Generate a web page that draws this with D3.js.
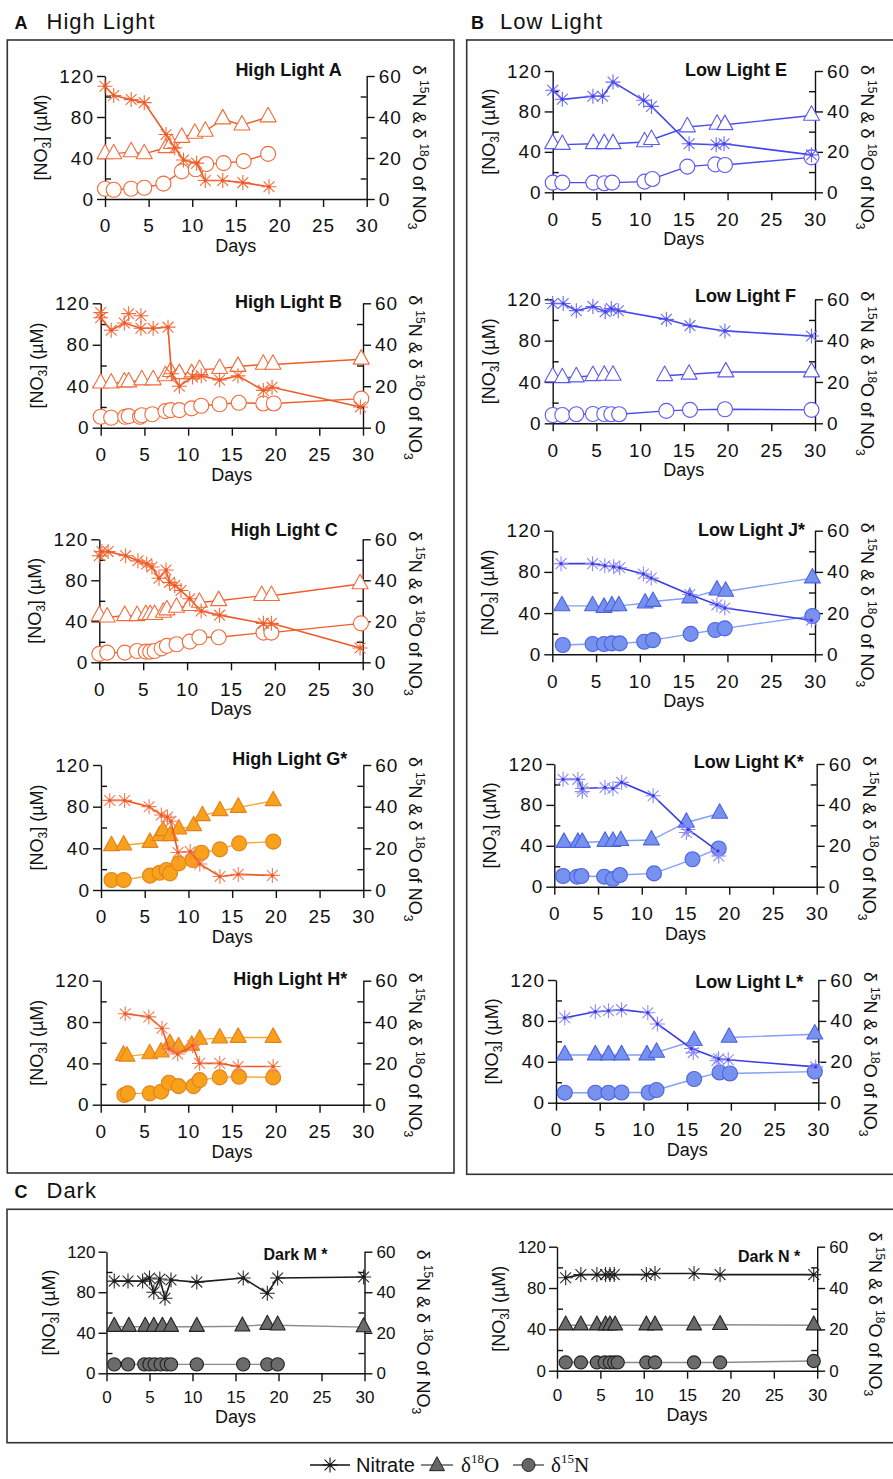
<!DOCTYPE html>
<html><head><meta charset="utf-8">
<script src="https://cdn.jsdelivr.net/npm/d3@7"></script>
<style>body{margin:0;background:#fff}svg{display:block}</style>
</head><body>
<svg id="c" width="893" height="1479"></svg>
<script>
// ---------- tick labels ----------
const dayTicks = [0,5,10,15,20,25,30];
const no3Ticks = [0,40,80,120];
const no3Minor = [20,60,100];
const deltaTicks = [0,20,40,60];
const deltaMinor = [10,30,50];

// ---------- data: [day, value] ----------
// High Light A
const A_no3  = [[0,110],[1,101],[3,97],[4.5,94],[7,63],[8,50],[9,38],[10.5,35],[11.5,18],[13.5,18],[15.8,16],[18.8,12]];
const A_d18O = [[0,22],[1,22],[3,23],[4.5,22],[7,25],[7.6,27],[8.8,30],[10.3,32],[11.5,33],[13.5,39],[15.7,36],[18.7,40]];
const A_d15N = [[0,5],[1,4.5],[3,5],[4.5,5.5],[6.7,7.5],[8.8,13.5],[10.4,14.5],[11.6,17],[13.6,17.5],[15.9,18.5],[18.7,22]];
// High Light B
const B_no3  = [[0,106],[1.2,94],[2.7,101],[4.6,96],[6,96],[7.7,97],[8.1,52],[9,40],[10.5,49],[11.5,50],[13.6,46],[15.7,50],[18.6,36],[19.6,39],[29.7,20]];
const B_no3_rep = [[0,111],[3.2,110],[4.6,108]];
const B_d18O = [[0,21.5],[1.2,21.5],[2.7,22],[3.2,22],[4.7,23],[6,23],[7.4,25],[8,27],[9,26],[10.4,26],[11.3,28],[13.6,28.5],[15.7,29.5],[18.6,30.5],[19.7,30.5],[29.8,33]];
const B_d15N = [[0,5.3],[1.2,4.8],[2.8,5.3],[3.2,5.6],[4.5,5.3],[4.7,6],[5.9,6.5],[7.4,8],[8,8.5],[9,8.5],[10.4,9.3],[11.5,10.6],[13.6,11.3],[15.8,12],[18.6,11.7],[19.8,11.7],[29.8,14]];
// High Light C
const C_no3  = [[0,104],[0.3,108],[1,108],[3,104],[4.4,99],[5.4,96],[6,93],[6.8,82],[7.6,90],[8,78],[8.6,75],[9.3,70],[10.3,62],[11.6,50],[13.7,46],[18.7,38],[19.6,38],[29.7,14]];
const C_d18O = [[0,22.7],[0.9,22],[2.9,22.7],[4.3,22.7],[5.3,23.2],[5.8,23.2],[6.3,23.2],[7.3,24.3],[7.7,25.5],[8.8,26.8],[10.3,27.6],[11.4,29.2],[13.6,30],[18.5,32.5],[19.6,32.5],[29.7,38.2]];
const C_d15N = [[0,4.1],[0.9,4.7],[2.9,4.7],[4.3,5.5],[5.3,5.2],[5.8,5.2],[6.3,5.5],[7.1,6.8],[7.7,8],[8.8,8.8],[10.3,10.1],[11.4,12.2],[13.6,12.2],[18.7,14.5],[19.6,14.5],[29.8,19]];
// High Light G*
const G_no3  = [[1,86],[2.7,86],[5.5,80],[6.9,72],[7.6,70],[8,66],[8.8,36],[10.2,37],[11.3,25],[13.6,13],[15.7,15],[19.6,14]];
const G_d18O = [[1.2,21.2],[2.6,21.5],[5.6,22.8],[6.7,26],[7.1,28.4],[7.9,26],[8.9,29.2],[10.6,30.8],[11.6,35.6],[13.6,38],[15.7,39.6],[19.7,42.8]];
const G_d15N = [[1.2,4.8],[2.6,4.8],[5.6,6.9],[6.7,8.3],[7.5,9.6],[7.9,8],[8.9,12.8],[10.5,14.4],[11.5,17.9],[13.6,19.5],[15.8,22.4],[19.7,23.2]];
// High Light H*
const H_no3  = [[2.8,88],[5.5,85],[7,74],[7.8,54],[8.8,49],[10.5,57],[11.3,40],[13.6,40],[15.7,37],[19.7,37]];
const H_d18O = [[2.6,23.8],[3,23.4],[5.6,24.6],[6.9,25.4],[7.9,29.5],[8.9,27.9],[10.4,28.7],[11.3,31.6],[13.6,32.2],[15.7,32.5],[19.7,32.5]];
const H_d15N = [[2.7,4.7],[3.1,5.5],[5.6,5.5],[6.9,6.3],[7.8,10.6],[8.9,9],[10.6,9],[11.3,11.9],[13.6,13.2],[15.8,13.5],[19.7,13.2]];
// Low Light E
const E_no3  = [[0,101],[1.1,92],[4.6,95],[5.7,95],[6.9,109],[10.4,91],[11.3,85],[15.6,48],[18.7,47],[19.6,48],[29.6,37]];
const E_d18O = [[0,24],[1.1,23.6],[4.65,24],[5.9,24],[6.9,24],[10.5,24.9],[11.3,26],[15.4,32.3],[18.8,33.6],[19.7,33.4],[29.6,38]];
const E_d15N = [[0,4.8],[1.1,4.8],[4.65,4.8],[5.9,4.5],[6.8,4.8],[10.5,5.3],[11.4,6.6],[15.4,12.7],[18.6,13.8],[19.7,13.5],[29.6,17.3]];
// Low Light F
const F_no3  = [[0,116],[1.2,116],[2.7,109],[4.6,113],[6,108],[6.7,111],[7.5,109],[13,100.6],[15.7,94.5],[19.7,89.4],[29.6,84.5]];
const F_d18O = [[0,22.4],[1.1,22],[2.7,22.4],[4.6,23],[5.9,23.2],[6.9,23.2],[10,null],[12.8,23],[15.6,23.7],[19.8,24.8],[29.6,24.8]];
const F_d15N = [[0,4],[1.1,4],[2.7,4.4],[4.6,4.5],[5.9,4.5],[6.7,4.4],[7.6,4.4],[13,6],[15.7,6.5],[19.7,6.8],[29.6,6.5]];
// Low Light J*
const J_no3  = [[1,88],[4.6,88],[6,86],[7,85],[7.7,84],[10.4,78],[11.3,74],[15.7,58],[18.8,48],[19.7,45],[29.6,33]];
const J_d18O = [[1.1,23.5],[4.6,23.5],[5.9,22.7],[6.8,23.5],[7.6,23.5],[10.6,24.8],[11.5,25.6],[15.7,27.3],[18.8,31.1],[19.8,30.5],[29.7,37]];
const J_d15N = [[1.2,4.5],[4.6,5],[5.9,5],[6.8,5.3],[7.7,5.3],[10.5,6.1],[11.5,6.9],[15.8,9.9],[18.6,11.8],[19.7,12.6],[29.7,18.6]];
// Low Light K*
const K_no3  = [[1,105],[2.7,105],[3.2,96],[5.8,97],[6.7,96],[7.7,102],[11.3,89],[15.3,56],[18.7,35]];
const K_no3_rep = [[3.2,93],[15.1,53],[18.8,30]];
const K_d18O = [[1.1,21.6],[2.7,21.6],[3.2,21.6],[5.8,22.1],[6.7,22.1],[7.6,22.5],[11.1,22.8],[15.1,31.4],[18.9,35.8]];
const K_d15N = [[1,5.2],[2.6,4.9],[3.1,5.2],[5.7,4.9],[6.7,3.7],[7.5,5.7],[11.4,6.5],[15.8,13.4],[18.8,18.7]];
// Low Light L*
const L_no3  = [[1,83],[4.5,89],[6,90],[7.5,91],[10.5,88],[11.6,77],[15.5,53],[18.6,43],[19.7,42],[29.7,35]];
const L_no3_rep = [[15.7,49],[18.4,41]];
const L_d18O = [[1,23.3],[4.5,23.3],[6,23.3],[7.5,23.3],[10.4,23.3],[11.5,24.6],[15.8,30.3],[18.7,null],[19.8,31.9],[29.6,33.5]];
const L_d15N = [[1,4.9],[4.5,4.9],[6,4.9],[7.5,5],[10.6,5],[11.5,6.2],[15.8,11.6],[18.7,14.8],[19.9,14.3],[29.6,15.2]];
// Dark M*
const M_no3  = [[0.9,91],[2.5,91],[4.2,91],[5,94],[5.5,80],[6.2,93],[6.8,74],[7.5,92],[10.5,90],[15.9,94],[18.7,79],[19.9,94],[29.9,95]];
const M_d18O = [[0.9,23],[2.6,23],[4.5,23],[5.5,23],[6.5,23],[7.5,23],[10.5,23],[15.8,23.2],[18.7,24],[19.9,23.7],[29.9,22.8]];
const M_d15N = [[0.9,4.4],[2.5,4.4],[4.4,4.4],[5,4.4],[5.6,4.4],[6.3,4.4],[7,4.4],[7.5,4.4],[10.5,4.4],[15.9,4.4],[18.7,4.4],[19.9,4.4]];
// Dark N*
const N_no3  = [[1,90],[2.75,93],[4.6,93],[5.6,93],[6.1,93],[6.6,93],[10.3,93],[11.3,94],[15.8,94],[18.8,93],[29.6,93]];
const N_d18O = [[1,22],[2.75,22],[4.6,22],[5.6,22],[6.1,22],[6.7,22],[10.3,22],[11.3,22],[15.8,22],[18.8,22.2],[29.6,22]];
const N_d15N = [[1,4],[2.75,4],[4.6,4],[5.5,4],[6.1,4],[6.6,4],[7,4],[10.3,4],[11.3,4],[15.8,4],[18.8,4],[29.6,4.7]];

// ---------- panels ----------
const panels = [
  {title:'High Light A',  theme:'hlOpen', no3:A_no3, rep:[], d18O:A_d18O, d15N:A_d15N},
  {title:'High Light B',  theme:'hlOpen', no3:B_no3, rep:B_no3_rep, d18O:B_d18O, d15N:B_d15N},
  {title:'High Light C',  theme:'hlOpen', no3:C_no3, rep:[], d18O:C_d18O, d15N:C_d15N},
  {title:'High Light G*', theme:'hlFill', no3:G_no3, rep:[], d18O:G_d18O, d15N:G_d15N},
  {title:'High Light H*', theme:'hlFill', no3:H_no3, rep:[], d18O:H_d18O, d15N:H_d15N},
  {title:'Low Light E',   theme:'llOpen', no3:E_no3, rep:[], d18O:E_d18O, d15N:E_d15N},
  {title:'Low Light F',   theme:'llOpen', no3:F_no3, rep:[], d18O:F_d18O, d15N:F_d15N},
  {title:'Low Light J*',  theme:'llFill', no3:J_no3, rep:[], d18O:J_d18O, d15N:J_d15N},
  {title:'Low Light K*',  theme:'llFill', no3:K_no3, rep:K_no3_rep, d18O:K_d18O, d15N:K_d15N},
  {title:'Low Light L*',  theme:'llFill', no3:L_no3, rep:L_no3_rep, d18O:L_d18O, d15N:L_d15N},
  {title:'Dark M *',      theme:'dark',   no3:M_no3, rep:[], d18O:M_d18O, d15N:M_d15N},
  {title:'Dark N *',      theme:'dark',   no3:N_no3, rep:[], d18O:N_d18O, d15N:N_d15N}
];

// ---------- layout (positions only) ----------
const layout = {
  'High Light A':  {x0:105,   x1:366.7, yt:76,     yb:199,    sdx:-25, sdy:0,  rty:-11},
  'High Light B':  {x0:100.7, x1:363,   yt:303.3,  yb:427.7,  sdx:-21, sdy:5,  rty:-8},
  'High Light C':  {x0:99.3,  x1:362.7, yt:539.3,  yb:662.3,  sdx:-25, sdy:-3, rty:-8},
  'High Light G*': {x0:101,   x1:363.3, yt:765,    yb:890,    sdx:-16, sdy:0,  rty:-8},
  'High Light H*': {x0:100.7, x1:363.3, yt:980.7,  yb:1104.7, sdx:-16, sdy:4,  rty:-8},
  'Low Light E':   {x0:552.7, x1:815,   yt:71,     yb:192.3,  sdx:-28, sdy:5,  rty:-6},
  'Low Light F':   {x0:552.7, x1:815,   yt:299.3,  yb:423.3,  sdx:-19, sdy:3,  rty:-8},
  'Low Light J*':  {x0:552.3, x1:815,   yt:530.7,  yb:654.3,  sdx:-10, sdy:5,  rty:-8},
  'Low Light K*':  {x0:554.3, x1:816.7, yt:764,    yb:886.7,  sdx:-13, sdy:4,  rty:-8},
  'Low Light L*':  {x0:556,   x1:818.3, yt:980,    yb:1102.7, sdx:-15, sdy:8,  rty:-8},
  'Dark M *':      {x0:106.5, x1:364.5, yt:1251.7, yb:1373.3, sdx:-37, sdy:8,  rty:-2, narrow:true},
  'Dark N *':      {x0:557,   x1:817.2, yt:1246.7, yb:1370.7, sdx:-17, sdy:15, rty:-15, narrow:true}
};

const themes = {
  hlOpen: {no3Line:'#EE5A24', ast:'#F26A3A', dLine:'#EF5E28', fill:'#ffffff', stroke:'#F26B3A'},
  hlFill: {no3Line:'#EC5A24', ast:'#F47B52', dLine:'#F7A829', fill:'#F8A21C', stroke:'#E4801F'},
  llOpen: {no3Line:'#4545EE', ast:'#6A6AF2', dLine:'#4A4AEE', fill:'#ffffff', stroke:'#5A5AF0'},
  llFill: {no3Line:'#3B3BE3', ast:'#8C8CF5', dLine:'#82A0F5', fill:'#7792EE', stroke:'#4D62E2'},
  dark:   {no3Line:'#1a1a1a', ast:'#2a2a2a', dLine:'#8c8c8c', fill:'#6b6b6b', stroke:'#222222'}
};

const SANS = "'Liberation Sans', Arial, Helvetica, sans-serif";
const SERIF = "'Liberation Serif', 'Times New Roman', serif";
const svg = d3.select('#c');

function asteriskPath(r){
  const a = r*0.72;
  return `M0,${-r}V${r}M${-r},0H${r}M${-a},${-a}L${a},${a}M${-a},${a}L${a},${-a}`;
}
function trianglePath(w,h){
  return `M0,${-h*2/3}L${w/2},${h/3}L${-w/2},${h/3}Z`;
}

// ---------- section frames and headings ----------
svg.append('rect').attr('x',7.3).attr('y',40).attr('width',446.7).attr('height',1133)
  .attr('fill','none').attr('stroke','#333').attr('stroke-width',1.6);
svg.append('rect').attr('x',466.7).attr('y',40).attr('width',440).attr('height',1134.3)
  .attr('fill','none').attr('stroke','#333').attr('stroke-width',1.6);
svg.append('rect').attr('x',7).attr('y',1209.3).attr('width',900).attr('height',233.4)
  .attr('fill','none').attr('stroke','#333').attr('stroke-width',1.6);

const headings = [
  {letter:'A', text:'High Light', lx:14.5, tx:46.5, y:29.3},
  {letter:'B', text:'Low Light',  lx:471,  tx:500,  y:29.3},
  {letter:'C', text:'Dark',       lx:14.5, tx:46.5, y:1198}
];
headings.forEach(h=>{
  svg.append('text').attr('x',h.lx).attr('y',h.y).attr('font-family',SANS).attr('font-weight','bold')
    .attr('font-size',18).attr('fill','#111').text(h.letter);
  svg.append('text').attr('x',h.tx).attr('y',h.y).attr('font-family',SANS)
    .attr('font-size',22).attr('letter-spacing',1).attr('fill','#111').text(h.text);
});

// ---------- panels ----------
function drawPanel(p){
  const L = layout[p.title];
  const th = themes[p.theme];
  const dark = p.theme==='dark';
  const x  = d3.scaleLinear().domain([0,30]).range([L.x0,L.x1]);
  const yL = d3.scaleLinear().domain([0,120]).range([L.yb,L.yt]);
  const yR = d3.scaleLinear().domain([0,60]).range([L.yb,L.yt]);
  const g = svg.append('g');

  g.append('g').attr('transform',`translate(${L.x0},0)`)
    .call(d3.axisLeft(yL).tickValues(no3Ticks).tickSize(8).tickSizeOuter(0).tickPadding(3));
  g.append('g').attr('class','minor').attr('transform',`translate(${L.x0},0)`)
    .call(d3.axisRight(yL).tickValues(no3Minor).tickSize(6).tickFormat(''));
  g.append('g').attr('transform',`translate(${L.x1},0)`)
    .call(d3.axisRight(yR).tickValues(deltaTicks).tickSize(8).tickSizeOuter(0).tickPadding(4));
  g.append('g').attr('class','minor').attr('transform',`translate(${L.x1},0)`)
    .call(d3.axisLeft(yR).tickValues(deltaMinor).tickSize(6).tickFormat(''));
  g.append('g').attr('transform',`translate(0,${L.yb})`)
    .call(d3.axisBottom(x).tickValues(dayTicks).tickSize(8).tickSizeOuter(0).tickPadding(L.narrow?10:12));
  g.selectAll('.minor .domain').remove();
  g.selectAll('.domain').attr('stroke','#111').attr('stroke-width',1.4);
  g.selectAll('.tick line').attr('stroke','#111').attr('stroke-width',1.4);
  g.selectAll('.tick text').attr('font-family',SANS).attr('font-size',L.narrow?17:19)
    .attr('letter-spacing',L.narrow?0:1).attr('fill','#111');

  // x label
  g.append('text').attr('x',x(15)).attr('y',L.yb+(L.narrow?50:53)).attr('text-anchor','middle')
    .attr('font-family',SANS).attr('font-size',18).attr('fill','#111').text('Days');

  // left title
  const lt = g.append('text')
    .attr('transform',`translate(${L.x0-(L.narrow?52:58)},${(L.yt+L.yb)/2}) rotate(-90)`)
    .attr('text-anchor','middle').attr('font-family',SANS).attr('font-size',18).attr('fill','#111');
  lt.append('tspan').text('[NO');
  lt.append('tspan').attr('font-size',12).attr('dy',4).text('3');
  lt.append('tspan').attr('dy',-4).text('] (\u00B5M)');

  // right title
  const rt = g.append('text')
    .attr('transform',`translate(${L.x1+(L.narrow?52:46)},${L.yt+L.rty}) rotate(90)`)
    .attr('font-family',SANS).attr('font-size',18).attr('fill','#111');
  rt.append('tspan').text('\u03B4 ');
  rt.append('tspan').attr('font-size',12).attr('dy',-7).text('15');
  rt.append('tspan').attr('dy',7).text('N & \u03B4 ');
  rt.append('tspan').attr('font-size',12).attr('dy',-7).text('18');
  rt.append('tspan').attr('dy',7).text('O of NO');
  rt.append('tspan').attr('font-size',12).attr('dy',5).text('3');

  // subtitle
  g.append('text').attr('x',L.x1+L.sdx).attr('y',L.yt+L.sdy).attr('text-anchor','end')
    .attr('font-family',SANS).attr('font-weight','bold').attr('font-size',L.narrow?16:18).attr('fill','#111')
    .text(p.title);

  const line = sc => d3.line().defined(d=>d[1]!=null).x(d=>x(d[0])).y(d=>sc(d[1]));
  const rC = dark ? 6.6 : 7.5;
  const tW = dark ? 15 : 16, tH = dark ? 14 : 14.5;

  // δ15N circles
  g.append('path').datum(p.d15N).attr('d',line(yR)).attr('fill','none')
    .attr('stroke',th.dLine).attr('stroke-width',1.4);
  g.selectAll(null).data(p.d15N.filter(d=>d[1]!=null)).join('circle')
    .attr('cx',d=>x(d[0])).attr('cy',d=>yR(d[1])).attr('r',rC)
    .attr('fill',th.fill).attr('stroke',th.stroke).attr('stroke-width',1.1);

  // δ18O triangles
  g.append('path').datum(p.d18O).attr('d',line(yR)).attr('fill','none')
    .attr('stroke',th.dLine).attr('stroke-width',1.4);
  g.selectAll(null).data(p.d18O.filter(d=>d[1]!=null)).join('path')
    .attr('transform',d=>`translate(${x(d[0])},${yR(d[1])})`).attr('d',trianglePath(tW,tH))
    .attr('fill',th.fill).attr('stroke',th.stroke).attr('stroke-width',1.1).attr('stroke-linejoin','round');

  // nitrate
  g.append('path').datum(p.no3).attr('d',line(yL)).attr('fill','none')
    .attr('stroke',th.no3Line).attr('stroke-width',1.6);
  g.selectAll(null).data(p.no3.concat(p.rep)).join('path')
    .attr('transform',d=>`translate(${x(d[0])},${yL(d[1])})`).attr('d',asteriskPath(7.5))
    .attr('fill','none').attr('stroke',th.ast).attr('stroke-width',1.1);
  g.selectAll(null).data(p.no3).join('circle')
    .attr('cx',d=>x(d[0])).attr('cy',d=>yL(d[1])).attr('r',1.7).attr('fill',th.no3Line);
}
panels.forEach(drawPanel);

// ---------- legend ----------
const legend = svg.append('g');
const legY = 1465;
const legItems = [
  {kind:'ast',  x1:310, x2:350, label:'Nitrate'},
  {kind:'tri',  x1:421, x2:453, label:'18O'},
  {kind:'circ', x1:513, x2:544, label:'15N'}
];
const legTextX = [356, 461, 551];
legItems.forEach((it,i)=>{
  legend.append('line').attr('x1',it.x1).attr('x2',it.x2).attr('y1',legY).attr('y2',legY)
    .attr('stroke', it.kind==='ast' ? '#111' : '#555').attr('stroke-width',1.4);
  const cx = (it.x1+it.x2)/2;
  if(it.kind==='ast'){
    legend.append('path').attr('transform',`translate(${cx},${legY})`).attr('d',asteriskPath(7.5))
      .attr('fill','none').attr('stroke','#111').attr('stroke-width',1.1);
    legend.append('text').attr('x',legTextX[i]).attr('y',legY+7)
      .attr('font-family',SANS).attr('font-size',20).attr('fill','#111').text(it.label);
  } else {
    if(it.kind==='tri'){
      legend.append('path').attr('transform',`translate(${cx},${legY+1})`).attr('d',trianglePath(15,14))
        .attr('fill','#666').attr('stroke','#222').attr('stroke-width',1);
    } else {
      legend.append('circle').attr('cx',cx).attr('cy',legY).attr('r',6.5)
        .attr('fill','#666').attr('stroke','#222').attr('stroke-width',1);
    }
    const t = legend.append('text').attr('x',legTextX[i]).attr('y',legY+7)
      .attr('font-family',SERIF).attr('font-size',21).attr('fill','#111');
    t.append('tspan').text('\u03B4');
    t.append('tspan').attr('font-size',13).attr('dy',-9).text(it.label.slice(0,2));
    t.append('tspan').attr('dy',9).text(it.label.slice(2));
  }
});
</script>
</body></html>
